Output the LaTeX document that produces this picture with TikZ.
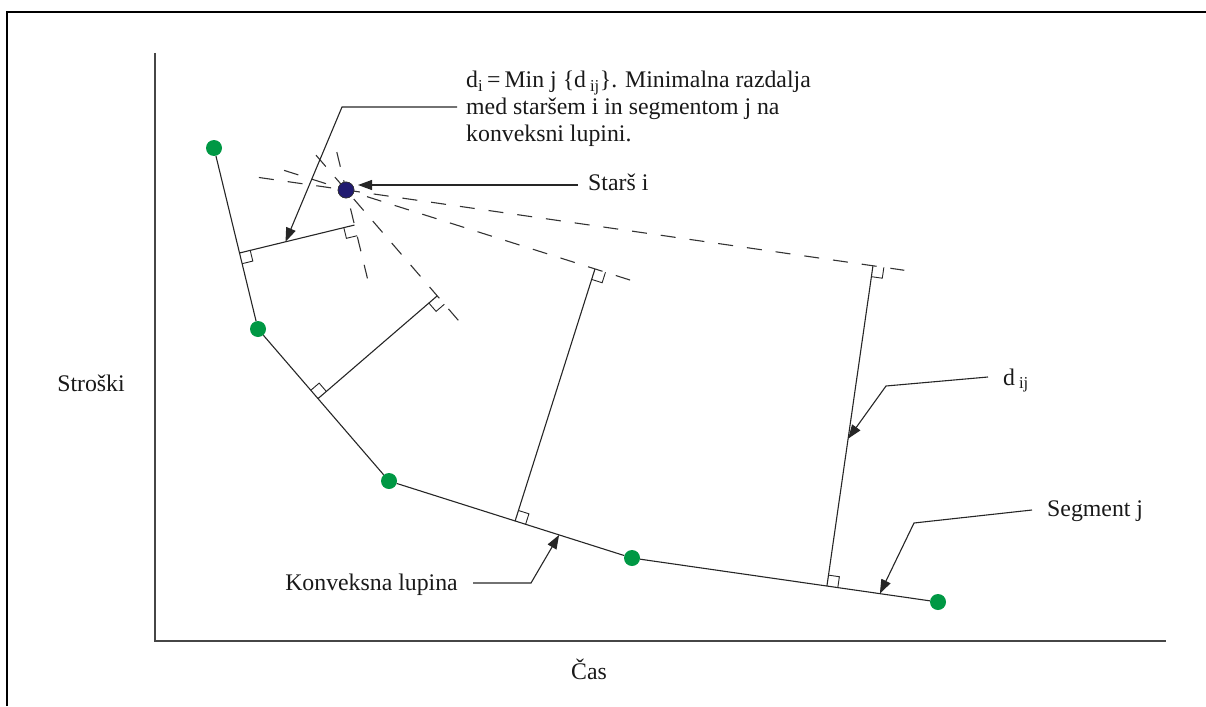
\documentclass[tikz,border=0pt]{standalone}
\usepackage{fontspec}
\setmainfont{Liberation Serif}
\usetikzlibrary{calc,arrows.meta}
\definecolor{dotgreen}{RGB}{0,152,68}
\definecolor{parnavy}{RGB}{32,26,112}
\definecolor{axisgray}{RGB}{70,70,70}
\newcommand\rtsq[3]{%
  \draw[rsq] let \p1=($(#1)!11pt!(#2)$), \p2=($(#1)!11pt!(#3)$), \p0=(#1) in
    (\p1) -- (\x1+\x2-\x0,\y1+\y2-\y0) -- (\p2);}
\begin{document}
\begin{tikzpicture}[x=1pt,y=-1pt,
  hull/.style={line width=1.1pt, draw=black!85},
  perp/.style={line width=1.1pt, draw=black!85},
  dashline/.style={line width=1.1pt, dash pattern=on 15pt off 14pt, draw=black!80},
  callout/.style={line width=1.1pt, draw=black!85, -{Triangle[length=14pt,width=10pt]}},
  lbl/.style={font=\fontsize{23.8}{27}\selectfont, inner sep=0pt, text=black!90},
  hpt/.style={circle, fill=dotgreen, minimum size=16pt, inner sep=0pt},
  ppt/.style={circle, fill=parnavy, draw=black!80, line width=0.6pt, minimum size=16pt, inner sep=0pt},
  rsq/.style={line width=0.9pt, draw=black!85}]
\useasboundingbox (0,0) rectangle (1206,706);
% frame (cropped)
\draw[line width=2.5pt] (7,706) -- (7,12) -- (1206,12);
% axes
\coordinate (ytop) at (155,53);
\coordinate (orig) at (155,641);
\coordinate (xend) at (1166,641);
\draw[line width=1.3pt, axisgray] (ytop) -- (orig) -- (xend);
% hull points and parent
\node[hpt] (g1) at (214,148) {};
\node[hpt] (g2) at (258,329) {};
\node[hpt] (g3) at (389,481) {};
\node[hpt] (g4) at (632,558) {};
\node[hpt] (g5) at (938,602) {};
\node[ppt] (par) at (346,190) {};
% hull
\draw[hull] (g1) -- (g2) -- (g3) -- (g4) -- (g5);
% feet and tops of the perpendiculars
\coordinate (f1) at ($(g1)!0.58!(g2)$);
\coordinate (f2) at ($(g2)!0.458!(g3)$);
\coordinate (f3) at ($(g3)!0.519!(g4)$);
\coordinate (f4) at ($(g4)!0.637!(g5)$);
\coordinate (n1) at ($(f1)!1!90:(g2)$);
\coordinate (n2) at ($(f2)!1!90:(g3)$);
\coordinate (n3) at ($(f3)!1!90:(g4)$);
\coordinate (n4) at ($(f4)!1!90:(g5)$);
\coordinate (t1) at ($(f1)!(par)!(n1)$);
\coordinate (t2) at ($(f2)!(par)!(n2)$);
\coordinate (t3) at ($(f3)!(par)!(n3)$);
\coordinate (t4) at ($(f4)!(par)!(n4)$);
% dashed lines through the parent
\draw[dashline] ($(par)!-39pt!(t1)$) -- ($(par)!91pt!(t1)$);
\draw[dashline] ($(par)!-46pt!(t2)$) -- ($(par)!181pt!(t2)$);
\draw[dashline] ($(par)!-65pt!(t3)$) -- ($(par)!309pt!(t3)$);
\draw[dashline] ($(par)!-88pt!(t4)$) -- ($(par)!564pt!(t4)$);
% perpendiculars
\draw[perp] (f1) -- (t1);
\draw[perp] (f2) -- (t2);
\draw[perp] (f3) -- (t3);
\draw[perp] (f4) -- (t4);
% right-angle marks
\coordinate (a1) at ($(t1)!-20pt!(par)$);
\coordinate (a2) at ($(t2)!-20pt!(par)$);
\coordinate (a3) at ($(t3)!-20pt!(par)$);
\coordinate (a4) at ($(t4)!-20pt!(par)$);
\rtsq{f1}{t1}{g2}
\rtsq{f2}{t2}{g2}
\rtsq{f3}{t3}{g4}
\rtsq{f4}{t4}{g5}
\rtsq{t1}{f1}{a1}
\rtsq{t2}{f2}{a2}
\rtsq{t3}{f3}{a3}
\rtsq{t4}{f4}{a4}
% redraw parent on top
\node[ppt] at (par) {};
% labels
\node[lbl, anchor=north west, align=left] (ditext) at (466,71)
  {d\textsubscript{i}\,=\,Min j \{d\,\textsubscript{ij}\}. Minimalna razdalja\\
   med staršem i in segmentom j na\\
   konveksni lupini.};
\node[lbl, anchor=base west] (stars) at (588,190) {Starš i};
\node[lbl, anchor=base west] (dij) at (1003,385) {d\,\textsubscript{ij}};
\node[lbl, anchor=base west] (segj) at (1047,516) {Segment j};
\node[lbl, anchor=base east] (konv) at (458,590) {Konveksna lupina};
\node[lbl] (ylab) at (91,383) {Stroški};
\node[lbl] (xlab) at (589,669) {Čas};
% callouts
\coordinate (dtip) at ($(f1)!0.4!(t1)$);
\coordinate (dbend) at (342,107);
\draw[callout] ([xshift=-9pt]ditext.west |- dbend) -- (dbend) -- (dtip);
\coordinate (stip) at (358,185);
\draw[callout] ([xshift=-10pt]stars.west |- stip) -- (stip);
\coordinate (dijs) at (988,377);
\coordinate (dijb) at (886,386);
\coordinate (dijtip) at ($(f4)!0.46!(t4)$);
\draw[callout] (dijs) -- (dijb) -- (dijtip);
\coordinate (segs) at (1032,510);
\coordinate (segb) at (914,523);
\coordinate (segtip) at ($(g4)!0.81!(g5)$);
\draw[callout] (segs) -- (segb) -- (segtip);
\coordinate (konvs) at (473,583);
\coordinate (konvb) at (531,583);
\coordinate (konvtip) at ($(g3)!0.70!(g4)$);
\draw[callout] (konvs) -- (konvb) -- (konvtip);
\end{tikzpicture}
\end{document}
